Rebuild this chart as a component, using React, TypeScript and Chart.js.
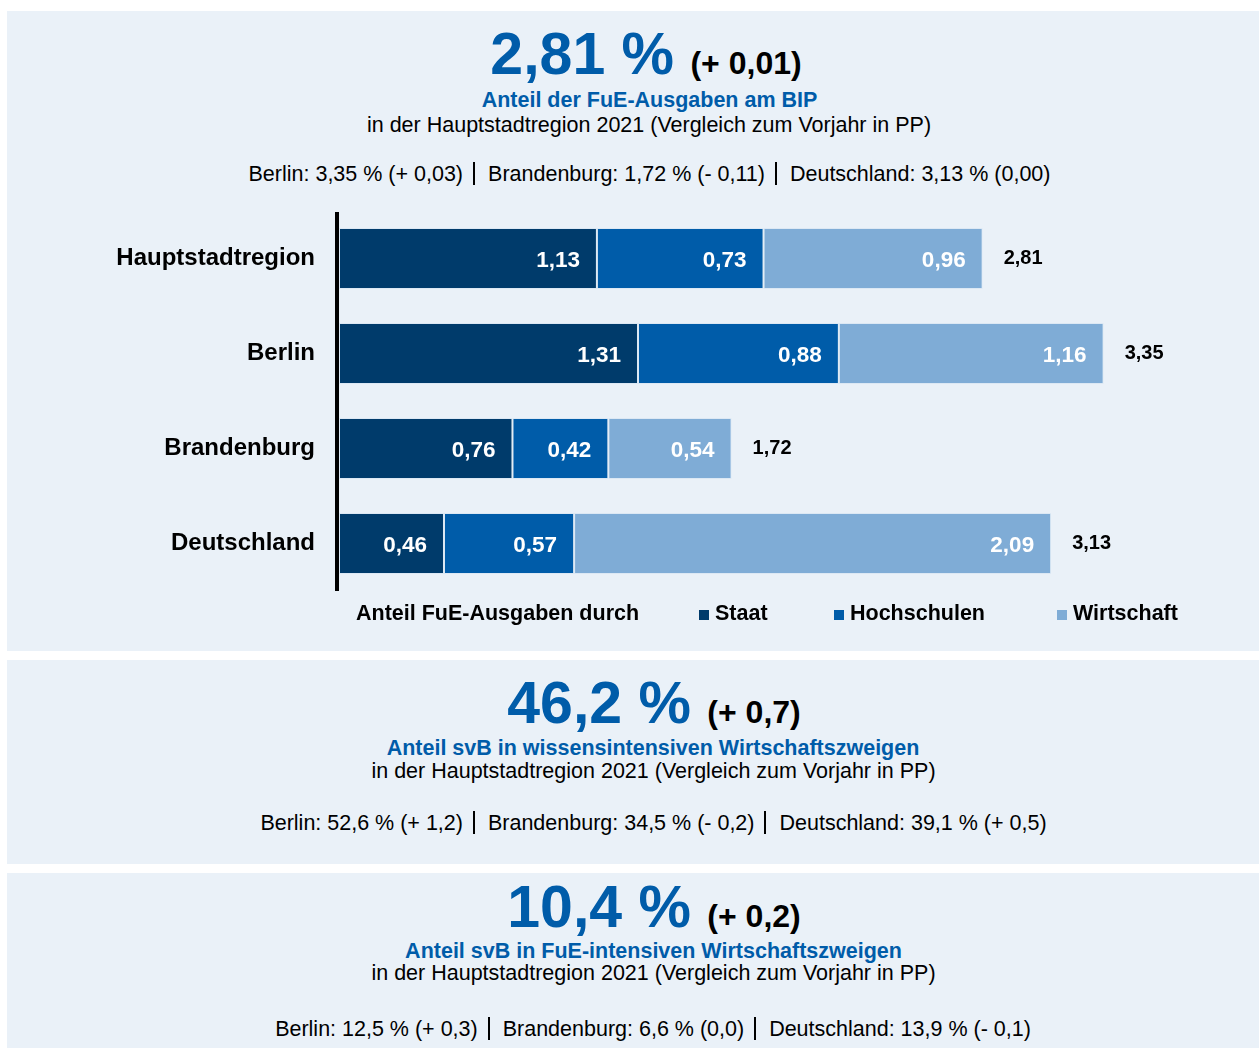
import React, { useEffect, useRef } from 'react';
import { Chart, registerables } from 'chart.js';

Chart.register(...registerables);

const FONT = "'Liberation Sans', Arial, Helvetica, sans-serif";

// ---- chart data ----
const categories = ['Hauptstadtregion', 'Berlin', 'Brandenburg', 'Deutschland'];
const staat = [1.13, 1.31, 0.76, 0.46];
const hochschulen = [0.73, 0.88, 0.42, 0.57];
const wirtschaft = [0.96, 1.16, 0.54, 2.09];
const totals = [2.81, 3.35, 1.72, 3.13];
const seriesNames = ['Staat', 'Hochschulen', 'Wirtschaft'];
const legendTitle = 'Anteil FuE-Ausgaben durch';

// ---- header texts ----
const headlineValues = ['2,81 %', '46,2 %', '10,4 %'];
const headlineChanges = ['(+ 0,01)', '(+ 0,7)', '(+ 0,2)'];
const headlineTitles = [
  'Anteil der FuE-Ausgaben am BIP',
  'Anteil svB in wissensintensiven Wirtschaftszweigen',
  'Anteil svB in FuE-intensiven Wirtschaftszweigen',
];
const headlineSub = 'in der Hauptstadtregion 2021 (Vergleich zum Vorjahr in PP)';
const comparison1 = ['Berlin: 3,35 % (+ 0,03)', 'Brandenburg: 1,72 % (- 0,11)', 'Deutschland: 3,13 % (0,00)'];
const comparison2 = ['Berlin: 52,6 % (+ 1,2)', 'Brandenburg: 34,5 % (- 0,2)', 'Deutschland: 39,1 % (+ 0,5)'];
const comparison3 = ['Berlin: 12,5 % (+ 0,3)', 'Brandenburg: 6,6 % (0,0)', 'Deutschland: 13,9 % (- 0,1)'];

// ---- styles ----
const seriesColors = ['#003b6b', '#005ca9', '#7facd6'];
const BLUE = '#005ca9';
const PANEL_BG = '#eaf1f8';
const legendBoxX = [699, 834, 1057];
const CANVAS_TOP = 200;

const fmt = (v: number) => v.toFixed(2).replace('.', ',');

const labelPlugin = {
  id: 'customLabels',
  afterDatasetsDraw(chart: any) {
    const { ctx } = chart;
    ctx.save();
    ctx.textBaseline = 'middle';
    chart.data.datasets.forEach((ds: any, di: number) => {
      const meta = chart.getDatasetMeta(di);
      meta.data.forEach((bar: any, i: number) => {
        ctx.font = `bold 22.5px ${FONT}`;
        ctx.fillStyle = '#ffffff';
        ctx.textAlign = 'right';
        ctx.fillText(fmt(ds.data[i]), bar.x - 17, bar.y + 2);
      });
    });
    const last = chart.getDatasetMeta(chart.data.datasets.length - 1);
    last.data.forEach((bar: any, i: number) => {
      ctx.font = `bold 20px ${FONT}`;
      ctx.fillStyle = '#000000';
      ctx.textAlign = 'left';
      ctx.fillText(fmt(totals[i]), bar.x + 21, bar.y);
    });
    // axis line
    const { left, top, bottom } = chart.chartArea;
    ctx.fillStyle = '#000000';
    ctx.fillRect(left - 4, top + 1, 4, bottom - top - 1);
    // legend
    const ly = 614 - CANVAS_TOP;
    ctx.font = `bold 21.5px ${FONT}`;
    ctx.textAlign = 'left';
    ctx.fillStyle = '#000000';
    ctx.fillText(legendTitle, 356, ly);
    chart.data.datasets.forEach((ds: any, di: number) => {
      const x = legendBoxX[di];
      ctx.fillStyle = ds.backgroundColor;
      ctx.fillRect(x, ly - 4, 10, 10);
      ctx.fillStyle = '#000000';
      ctx.fillText(ds.label, x + 16, ly);
    });
    ctx.restore();
  },
};

function BarChart() {
  const ref = useRef<HTMLCanvasElement | null>(null);
  useEffect(() => {
    if (!ref.current) return;
    const seriesData = [staat, hochschulen, wirtschaft];
    const chart = new Chart(ref.current, {
      type: 'bar',
      data: {
        labels: categories,
        datasets: seriesNames.map((name, k) => ({
          label: name,
          data: seriesData[k],
          backgroundColor: seriesColors[k],
          borderColor: 'rgba(190,212,235,0.3)',
          borderWidth: 1,
          borderSkipped: false,
          barPercentage: 0.642,
          categoryPercentage: 1,
        })),
      },
      options: {
        indexAxis: 'y',
        animation: false,
        responsive: false,
        devicePixelRatio: 1,
        layout: { padding: { left: 0, right: 7, top: 11, bottom: 59 } },
        plugins: {
          legend: { display: false },
          tooltip: { enabled: false },
          title: { display: false },
        },
        scales: {
          x: { stacked: true, display: false, min: 0, max: 4 },
          y: {
            stacked: true,
            grid: { display: false, drawTicks: false },
            border: { display: false },
            ticks: {
              color: '#000000',
              font: { family: FONT, size: 24, weight: 'bold' },
              padding: 24,
            },
            afterFit: (s: any) => {
              s.width = 339;
              s.paddingTop = 0;
              s.paddingBottom = 0;
            },
          },
        },
      } as any,
      plugins: [labelPlugin],
    });
    return () => chart.destroy();
  }, []);
  return (
    <canvas
      ref={ref}
      width={1259}
      height={450}
      style={{ position: 'absolute', left: 0, top: CANVAS_TOP, width: 1259, height: 450 }}
    />
  );
}

function Line(props: {
  center: number;
  baseline: number;
  size: number;
  bold?: boolean;
  color?: string;
  children: any;
}) {
  const { center, baseline, size, bold, color, children } = props;
  return (
    <div
      style={{
        position: 'absolute',
        left: center - 600,
        width: 1200,
        top: baseline - 0.8465 * size,
        fontSize: size,
        lineHeight: `${size}px`,
        fontWeight: bold ? 'bold' : 'normal',
        color: color || '#000',
        textAlign: 'center',
        whiteSpace: 'nowrap',
        fontFamily: FONT,
      }}
    >
      {children}
    </div>
  );
}

function Headline(props: { center: number; baseline: number; value: string; change: string }) {
  return (
    <Line center={props.center} baseline={props.baseline} size={59} bold color={BLUE}>
      <span>{props.value} </span>
      <span style={{ fontSize: 32, lineHeight: 1, color: '#000' }}>{props.change}</span>
    </Line>
  );
}

function Comparison(props: { center: number; baseline: number; items: string[] }) {
  return (
    <Line center={props.center} baseline={props.baseline} size={21.5}>
      {props.items.map((t, i) => (
        <React.Fragment key={i}>
          {i > 0 && (
            <span
              style={{
                display: 'inline-block',
                width: 2,
                height: 23,
                background: '#000',
                margin: '0 13px 0 10px',
                verticalAlign: -4,
              }}
            />
          )}
          <span>{t}</span>
        </React.Fragment>
      ))}
    </Line>
  );
}

export default function App() {
  return (
    <div
      style={{
        position: 'fixed',
        left: 0,
        top: 0,
        width: 1259,
        height: 1048,
        background: '#ffffff',
        overflow: 'hidden',
        fontFamily: FONT,
      }}
    >
      <div style={{ position: 'absolute', left: 7, top: 11, width: 1252, height: 640, background: PANEL_BG }} />
      <div style={{ position: 'absolute', left: 7, top: 660, width: 1252, height: 204, background: PANEL_BG }} />
      <div style={{ position: 'absolute', left: 7, top: 873, width: 1252, height: 175, background: PANEL_BG }} />

      <Headline center={646} baseline={75} value={headlineValues[0]} change={headlineChanges[0]} />
      <Line center={649.5} baseline={108} size={21.5} bold color={BLUE}>{headlineTitles[0]}</Line>
      <Line center={649} baseline={133.5} size={21.5}>{headlineSub}</Line>
      <Comparison center={649.5} baseline={180} items={comparison1} />

      <BarChart />

      <Headline center={654} baseline={724} value={headlineValues[1]} change={headlineChanges[1]} />
      <Line center={653} baseline={756} size={21.5} bold color={BLUE}>{headlineTitles[1]}</Line>
      <Line center={653.5} baseline={779} size={21.5}>{headlineSub}</Line>
      <Comparison center={653.5} baseline={829.5} items={comparison2} />

      <Headline center={654} baseline={928} value={headlineValues[2]} change={headlineChanges[2]} />
      <Line center={653.5} baseline={959.5} size={21.5} bold color={BLUE}>{headlineTitles[2]}</Line>
      <Line center={653.5} baseline={981.5} size={21.5}>{headlineSub}</Line>
      <Comparison center={653} baseline={1035} items={comparison3} />
    </div>
  );
}
